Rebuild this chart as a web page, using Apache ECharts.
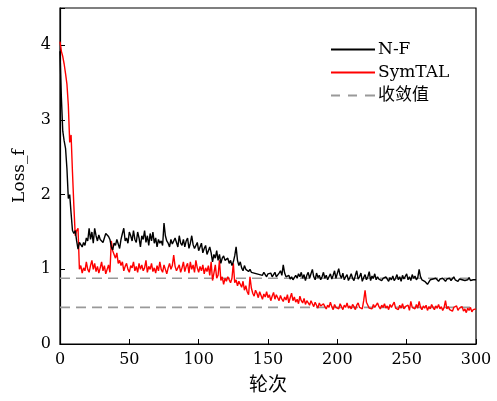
<!DOCTYPE html>
<html>
<head>
<meta charset="utf-8">
<title></title>
<script src="https://cdn.jsdelivr.net/npm/echarts@6/dist/echarts.min.js"></script>
<style>
	html, body { margin: 0; padding: 0; background: #fff; }
	#chart { width: 497px; height: 401px; }
</style>
</head>
<body>
<div id="chart"></div>
<script>
	// 轮次 0..300
	var nf = [
		3.92, 3.3, 2.85, 2.72, 2.62, 2.35, 1.95, 2.0, 1.75, 1.52,
		1.48, 1.52, 1.38, 1.27, 1.36, 1.33, 1.30, 1.36, 1.32, 1.42,
		1.38, 1.55, 1.40, 1.50, 1.35, 1.55, 1.45, 1.38, 1.46, 1.40,
		1.42, 1.36, 1.38, 1.48, 1.50, 1.44, 1.40, 1.30, 1.26, 1.35,
		1.32, 1.40, 1.38, 1.28, 1.40, 1.48, 1.55, 1.38, 1.42, 1.35,
		1.50, 1.45, 1.38, 1.52, 1.40, 1.36, 1.50, 1.42, 1.30, 1.45,
		1.40, 1.52, 1.36, 1.45, 1.32, 1.48, 1.38, 1.50, 1.35, 1.42,
		1.30, 1.40, 1.35, 1.38, 1.32, 1.62, 1.45, 1.38, 1.35, 1.30,
		1.40, 1.34, 1.32, 1.42, 1.36, 1.30, 1.45, 1.35, 1.32, 1.40,
		1.30, 1.38, 1.42, 1.28, 1.35, 1.45, 1.33, 1.28, 1.30, 1.36,
		1.25, 1.30, 1.35, 1.22, 1.28, 1.32, 1.20, 1.25, 1.30, 1.22,
		1.10, 1.20, 1.15, 1.25, 1.12, 1.20, 1.08, 1.15, 1.18, 1.12,
		1.10, 1.15, 1.08, 1.12, 1.05, 1.10, 1.18, 1.30, 1.12, 1.05,
		1.10, 1.02, 0.98, 1.05, 1.00, 1.02, 0.97, 1.00, 0.96, 0.98,
		0.95, 0.97, 0.94, 0.96, 0.93, 0.95, 0.92, 0.96, 0.94, 0.90,
		0.94, 0.92, 0.95, 0.90, 0.93, 0.96, 0.90, 0.88, 0.95, 0.98,
		0.92, 1.06, 0.95, 0.90, 0.88, 0.92, 0.87, 0.90, 0.86, 0.89,
		0.92, 0.88, 0.94, 0.90, 0.96, 0.88, 0.93, 0.85, 0.92, 0.96,
		0.88, 0.94, 1.00, 0.90, 0.86, 0.95, 0.89, 0.92, 0.86, 0.90,
		0.96, 0.88, 0.92, 0.86, 0.90, 0.94, 0.87, 0.92, 0.98, 0.88,
		0.86, 1.01, 0.92, 0.88, 0.95, 0.86, 0.90, 0.93, 0.85, 0.89,
		0.94, 0.88, 0.85, 0.92, 0.98, 0.87, 0.90, 0.95, 0.84, 0.89,
		0.93, 0.86, 0.90, 0.97, 0.85, 0.91, 0.88, 0.94, 0.86, 0.90,
		0.87, 0.89, 0.85, 0.88, 0.86, 0.90, 0.87, 0.84, 0.89, 0.86,
		0.91, 0.85, 0.88, 0.93, 0.86, 0.90, 0.84, 0.92, 0.87, 0.89,
		0.94, 0.86, 0.90, 0.85, 0.93, 0.88, 0.91, 0.86, 0.89, 1.00,
		0.90, 0.86, 0.88, 0.84, 0.86, 0.80, 0.82, 0.86, 0.84, 0.87,
		0.85, 0.88, 0.86, 0.84, 0.87, 0.85, 0.88, 0.86, 0.84, 0.87,
		0.86, 0.88, 0.85, 0.87, 0.90, 0.86, 0.88, 0.84, 0.87, 0.89,
		0.86, 0.88, 0.85, 0.87, 0.86, 0.89, 0.85, 0.87, 0.86, 0.88,
		0.86
	];
	var sym = [
		4.05, 3.92, 3.85, 3.75, 3.62, 3.48, 3.20, 2.70, 2.80, 2.30,
		1.85, 1.45, 1.52, 1.55, 1.00, 1.05, 0.95, 1.02, 0.98, 1.10,
		1.00, 0.96, 1.05, 1.12, 1.00, 1.08, 0.97, 1.04, 0.95, 1.02,
		1.10, 0.98, 1.05, 0.94, 1.00, 1.06, 0.96, 1.38, 1.25, 1.20,
		1.15, 1.22, 1.08, 1.12, 1.05, 1.10, 0.98, 1.04, 1.08, 1.00,
		0.96, 1.05, 1.02, 1.10, 0.98, 1.04, 0.96, 1.08, 1.00, 1.06,
		0.98, 1.02, 1.12, 0.96, 1.04, 1.00, 1.08, 0.97, 1.02, 0.95,
		1.05, 0.98, 1.10, 1.00, 0.96, 1.06, 1.00, 0.94, 1.02, 1.08,
		1.00, 1.05, 1.19, 1.04, 0.98, 1.00, 1.06, 0.96, 1.02, 1.10,
		0.97, 1.04, 1.08, 0.95, 1.10, 1.00, 1.06, 0.96, 1.12, 1.02,
		0.96, 1.04, 0.98, 1.06, 0.94, 1.02, 0.97, 1.05, 0.92, 1.10,
		0.85, 0.95, 1.06, 0.88, 0.92, 1.12, 0.85, 0.90, 0.80, 0.88,
		0.84, 0.90, 0.86, 0.82, 0.88, 1.08, 0.82, 0.86, 0.78, 0.84,
		0.80, 0.76, 0.84, 0.72, 0.78, 0.70, 0.66, 0.90, 0.75, 0.68,
		0.64, 0.72, 0.68, 0.62, 0.70, 0.65, 0.60, 0.67, 0.63, 0.70,
		0.62, 0.66, 0.58, 0.64, 0.69, 0.60, 0.66, 0.62, 0.58, 0.65,
		0.60, 0.57, 0.63, 0.59, 0.66, 0.55, 0.62, 0.68, 0.58, 0.63,
		0.56, 0.60, 0.54, 0.64, 0.58, 0.55, 0.61, 0.53, 0.58, 0.55,
		0.52, 0.58, 0.54, 0.50, 0.56, 0.52, 0.48, 0.55, 0.51, 0.49,
		0.54, 0.50, 0.47, 0.52, 0.49, 0.56, 0.50, 0.46, 0.53, 0.49,
		0.51, 0.47, 0.54, 0.50, 0.46, 0.52, 0.49, 0.55, 0.48, 0.51,
		0.47, 0.53, 0.50, 0.46, 0.52, 0.55, 0.49, 0.51, 0.47, 0.58,
		0.72, 0.56, 0.52, 0.48, 0.50, 0.47, 0.53, 0.49, 0.51, 0.55,
		0.50, 0.47, 0.52, 0.49, 0.54, 0.48, 0.51, 0.46, 0.53, 0.49,
		0.51, 0.56, 0.48, 0.50, 0.46, 0.52, 0.48, 0.54, 0.47, 0.50,
		0.48, 0.52, 0.45, 0.57, 0.49, 0.51, 0.47, 0.53, 0.48, 0.57,
		0.49, 0.46, 0.51, 0.48, 0.52, 0.45, 0.50, 0.47, 0.53, 0.49,
		0.46, 0.51, 0.48, 0.53, 0.47, 0.50, 0.45, 0.49, 0.58, 0.47,
		0.50, 0.46, 0.48, 0.44, 0.49, 0.47, 0.51, 0.45, 0.48, 0.46,
		0.50, 0.44, 0.47, 0.42, 0.48, 0.45, 0.49, 0.43, 0.46, 0.48,
		0.47
	];
	// 收敛值 (N-F, SymTAL)
	var converge = [0.88, 0.49];
	var xRange = [0, 300];
	var yTicks = [0, 1, 2, 3, 4];

	var serif = '"DejaVu Serif", "Liberation Serif", serif';
	var cjk = '"Noto Sans CJK SC", sans-serif';

	function toPairs(arr) {
		return arr.map(function (v, i) { return [i, v]; });
	}

	// 图例图标: 实线 / 虚线
	var solidIcon = 'path://M0,0H44V2H0Z';
	var dashIcon = 'path://M0,0H9V2H0Z M17,0H26V2H17Z M34,0H44V2H34Z';

	var chart = echarts.init(document.getElementById('chart'), null, { renderer: 'canvas' });

	var series = [
		{
			name: 'N-F', type: 'line', data: toPairs(nf),
			showSymbol: false, symbol: 'none', z: 4,
			lineStyle: { color: '#000', width: 1.4 },
			itemStyle: { color: '#000' }
		},
		{
			name: 'SymTAL', type: 'line', data: toPairs(sym),
			showSymbol: false, symbol: 'none', z: 3,
			lineStyle: { color: '#ff0000', width: 1.4 },
			itemStyle: { color: '#ff0000' }
		}
	];
	converge.forEach(function (c) {
		series.push({
			name: '收敛值', type: 'line',
			data: [[xRange[0], c], [xRange[1], c]],
			showSymbol: false, symbol: 'none', z: 2,
			lineStyle: { color: '#999', width: 1.6, type: [10, 6] },
			itemStyle: { color: '#999' }
		});
	});

	chart.setOption({
		animation: false,
		backgroundColor: '#fff',
		grid: {
			left: 60, top: 8, right: 21, bottom: 57,
			show: true, borderColor: '#000', borderWidth: 1.2,
			backgroundColor: 'transparent'
		},
		legend: {
			orient: 'vertical',
			left: 326, top: 36,
			itemWidth: 44, itemHeight: 2, itemGap: 6,
			data: [
				{ name: 'N-F', icon: solidIcon, itemStyle: { color: '#000' } },
				{ name: 'SymTAL', icon: solidIcon, itemStyle: { color: '#ff0000' } },
				{ name: '收敛值', icon: dashIcon, itemStyle: { color: '#999' } }
			],
			textStyle: { fontFamily: serif + ', ' + cjk, fontSize: 17, color: '#000', padding: [0, 0, 0, -2] }
		},
		xAxis: {
			type: 'value', min: xRange[0], max: xRange[1], interval: 50,
			name: '轮次', nameLocation: 'middle', nameGap: 30,
			nameTextStyle: { fontFamily: cjk, fontSize: 19, color: '#000' },
			axisLine: { lineStyle: { color: '#000', width: 1.2 } },
			axisTick: { inside: true, length: 5, lineStyle: { color: '#000' } },
			axisLabel: { fontFamily: serif, fontSize: 16, color: '#000', margin: 8 },
			splitLine: { show: false }
		},
		yAxis: {
			type: 'value', min: 0, max: 4.5, interval: 1,
			name: 'Loss_f', nameLocation: 'middle', nameGap: 32,
			nameTextStyle: { fontFamily: serif, fontSize: 17, color: '#000' },
			axisLine: { lineStyle: { color: '#000', width: 1.2 } },
			axisTick: { inside: true, length: 5, lineStyle: { color: '#000' } },
			axisLabel: {
				fontFamily: serif, fontSize: 16, color: '#000', margin: 9,
				formatter: function (v) { return yTicks.indexOf(v) >= 0 ? String(v) : ''; }
			},
			splitLine: { show: false }
		},
		series: series
	});
</script>
</body>
</html>
